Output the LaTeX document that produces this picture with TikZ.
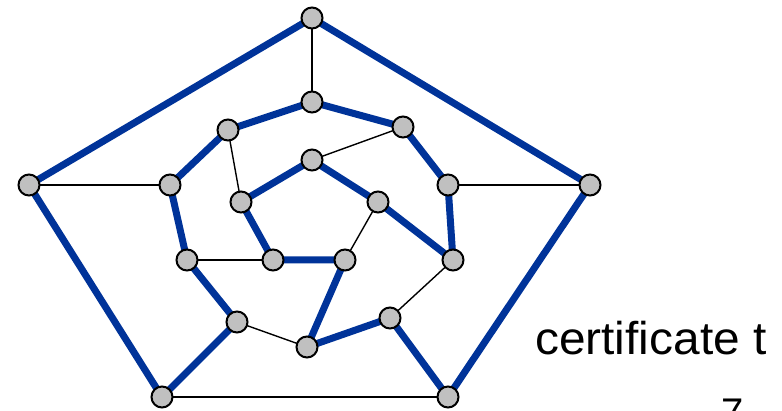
\documentclass[tikz,border=0pt]{standalone}
\usepackage{fontspec}
\setmainfont{Liberation Sans}
\definecolor{hamblue}{RGB}{0,51,153}
\definecolor{vgray}{RGB}{192,192,192}
\tikzset{
  vtx/.style={circle, draw=black, line width=2pt, fill=vgray, minimum size=21pt, inner sep=0pt},
  ham/.style={draw=hamblue, line width=7pt},
  thin/.style={draw=black, line width=1.4pt}
}
\begin{document}
\begin{tikzpicture}[x=1pt,y=-1pt]
\useasboundingbox (0,0) rectangle (782,411);
% coordinates
\coordinate (po1) at (312,18);
\coordinate (po2) at (590,185);
\coordinate (po3) at (448,397);
\coordinate (po4) at (162,397);
\coordinate (po5) at (29,185);
\coordinate (pm1) at (312,102);
\coordinate (pm2) at (403,127);
\coordinate (pm3) at (448,185);
\coordinate (pm4) at (453,260);
\coordinate (pm5) at (390,318);
\coordinate (pm6) at (307,347);
\coordinate (pm7) at (237,322);
\coordinate (pm8) at (187,260);
\coordinate (pm9) at (170,185);
\coordinate (pm10) at (228,130);
\coordinate (pi1) at (312,160);
\coordinate (pi2) at (378,202);
\coordinate (pi3) at (345,260);
\coordinate (pi4) at (273,260);
\coordinate (pi5) at (241,202);
% Hamiltonian cycle
\draw[ham] (po1) -- (po2) -- (po3) -- (pm5) -- (pm6) -- (pi3) -- (pi4) -- (pi5) -- (pi1) -- (pi2) -- (pm4) -- (pm3) -- (pm2) -- (pm1) -- (pm10) -- (pm9) -- (pm8) -- (pm7) -- (po4) -- (po5) -- cycle;
% other edges
\draw[thin] (po1) -- (pm1);
\draw[thin] (po2) -- (pm3);
\draw[thin] (po3) -- (po4);
\draw[thin] (pm5) -- (pm4);
\draw[thin] (pm7) -- (pm6);
\draw[thin] (po5) -- (pm9);
\draw[thin] (pm2) -- (pi1);
\draw[thin] (pm10) -- (pi5);
\draw[thin] (pi2) -- (pi3);
\draw[thin] (pi4) -- (pm8);
% vertices
\foreach \n in {o1,o2,o3,o4,o5,m1,m2,m3,m4,m5,m6,m7,m8,m9,m10,i1,i2,i3,i4,i5}
  \node[vtx] (\n) at (p\n) {};
% text
\node[anchor=base west, inner sep=0pt, font=\fontsize{46}{55}\selectfont] (cert) at (535,355) {\scalebox{1.04}[1]{certificate t}};
\node[anchor=base west, inner sep=0pt, font=\fontsize{40}{48}\selectfont] (pnum) at (721,427) {7};
\end{tikzpicture}
\end{document}
